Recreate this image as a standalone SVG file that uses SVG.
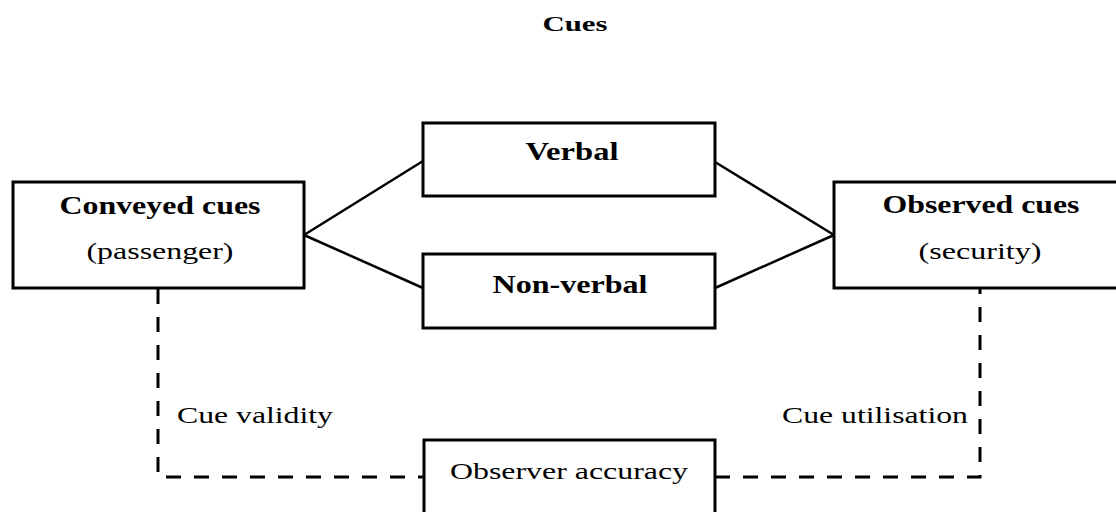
<svg xmlns="http://www.w3.org/2000/svg" width="1116" height="512" viewBox="0 0 1116 512">
<style>
.box{fill:#fff;stroke:#000;stroke-width:3}
.ln{fill:none;stroke:#000;stroke-width:2.5}
.dash{fill:none;stroke:#000;stroke-width:3;stroke-dasharray:15 13}
text{font-family:"Liberation Serif","Times New Roman",serif;fill:#000;text-anchor:middle}
.b{font-weight:bold;font-size:25px}
.r{font-size:24px}
.s{font-size:23px}
</style>
<rect width="1116" height="512" fill="#fff"/>
<text x="575" y="31" class="b" style="font-size:22px" textLength="65" lengthAdjust="spacingAndGlyphs">Cues</text>
<g id="connectors">
<path class="ln" d="M304 235 L423 161"/>
<path class="ln" d="M304 235 L423 288"/>
<path class="ln" d="M715 162 L834 235"/>
<path class="ln" d="M715 288 L834 235"/>
<path class="dash" d="M158 289 V477 H424"/>
<path class="dash" d="M715 477 H980 V289"/>
</g>
<g id="conveyed">
<rect class="box" x="13" y="182" width="291" height="106"/>
<text x="160" y="214" class="b" textLength="201" lengthAdjust="spacingAndGlyphs">Conveyed cues</text>
<text x="160" y="259" class="r" textLength="147" lengthAdjust="spacingAndGlyphs">(passenger)</text>
</g>
<g id="verbal">
<rect class="box" x="423" y="123" width="292" height="73"/>
<text x="572" y="160" class="b" textLength="93" lengthAdjust="spacingAndGlyphs">Verbal</text>
</g>
<g id="nonverbal">
<rect class="box" x="423" y="254" width="292" height="74"/>
<text x="570" y="293" class="b" textLength="155" lengthAdjust="spacingAndGlyphs">Non-verbal</text>
</g>
<g id="observed">
<rect class="box" x="834" y="182" width="300" height="106"/>
<text x="981" y="213" class="b" textLength="197" lengthAdjust="spacingAndGlyphs">Observed cues</text>
<text x="980" y="259" class="r" textLength="123" lengthAdjust="spacingAndGlyphs">(security)</text>
</g>
<g id="accuracy">
<rect class="box" x="424" y="440" width="291" height="100"/>
<text x="569" y="479" class="r" textLength="238" lengthAdjust="spacingAndGlyphs">Observer accuracy</text>
</g>
<g id="labels">
<text x="255" y="423" class="s" textLength="156" lengthAdjust="spacingAndGlyphs">Cue validity</text>
<text x="875" y="423" class="s" textLength="186" lengthAdjust="spacingAndGlyphs">Cue utilisation</text>
</g>
</svg>
